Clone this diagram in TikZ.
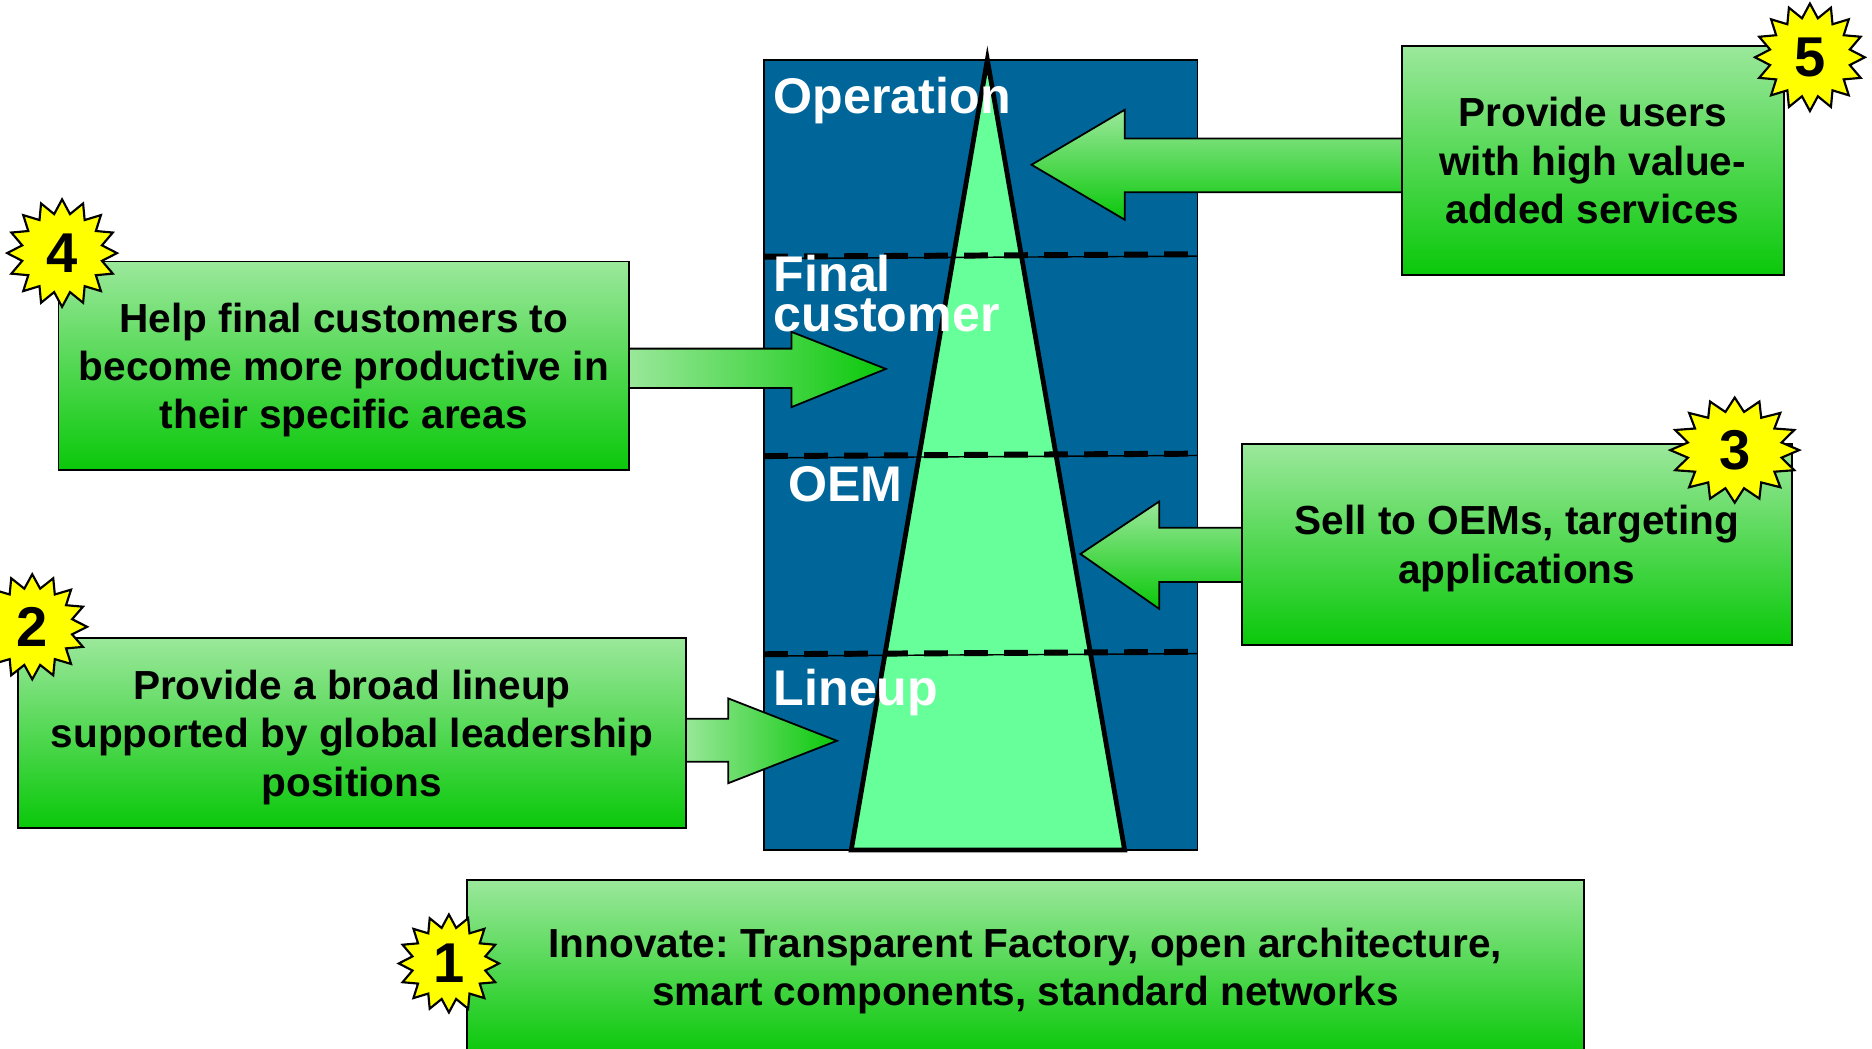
\documentclass[tikz,border=0pt]{standalone}
\usepackage{fontspec}
\setmainfont{Liberation Sans}
\frenchspacing
\definecolor{stackblue}{RGB}{0,102,153}
\definecolor{trigreen}{RGB}{102,255,153}
\definecolor{gtop}{RGB}{155,232,155}
\definecolor{gbot}{RGB}{10,200,10}
\definecolor{burstyellow}{RGB}{255,255,0}
\newcommand{\ls}{\rule[-8pt]{0pt}{40.5pt}}
\newcommand{\burst}[6]{%
  \draw[burst] plot[samples at={0,...,31}, variable=\k]
    ({#2+(mod(\k,2)==0?1:0.74)*#4*sin(\k*11.25)},
     {#3-(mod(\k,2)==0?1:0.74)*#5*cos(\k*11.25)}) -- cycle;
  \node[num] (#1) at (#2,#3) {#6};}
\begin{document}
\begin{tikzpicture}[x=1pt,y=-1pt,
  box/.style={draw=black, line width=1.5pt, top color=gtop, bottom color=gbot,
    inner sep=0pt, align=center, font=\fontsize{34pt}{40.5pt}\selectfont\bfseries},
  varrow/.style={draw=black, line width=1.5pt, top color=gtop, bottom color=gbot, line join=miter},
  harrow/.style={draw=black, line width=1.5pt, left color=gtop, right color=gbot, line join=miter},
  layer/.style={text=white, inner sep=0pt, anchor=base west,
    font=\fontsize{42pt}{42pt}\selectfont\bfseries},
  dashline/.style={line width=5pt, dash pattern=on 20pt off 13.5pt},
  thinline/.style={line width=1.2pt},
  burst/.style={fill=burstyellow, draw=black, line width=1.8pt, line join=miter},
  num/.style={inner sep=0pt, font=\fontsize{47pt}{47pt}\selectfont\bfseries},
  tri/.style={fill=trigreen, draw=black, line width=4pt, line join=miter}]
\useasboundingbox (0,0) rectangle (1568,878);
\clip (0,0) rectangle (1568,878);

% stack
\draw[fill=stackblue, line width=1.5pt] (640,50) rectangle (1003,712);
\draw[tri] (827,50) -- (942,712) -- (713,712) -- cycle;
\foreach \ya/\yb in {215/213, 382/380, 548/546}{
  \draw[thinline] (640,\ya+1.5) -- (1003,\yb+1.5);
  \draw[dashline] (640,\ya) -- (1000,\yb);
}
\node[layer] (lop) at (648,95) {Operation};
\node[layer] (lfi) at (648,244) {Final};
\node[layer] (lcu) at (648,278) {customer};
\node[layer] (loe) at (660,420) {OEM};
\node[layer] (lli) at (648,591) {Lineup};

% arrows
\draw[varrow] (1176,116) -- (942,116) -- (942,92) -- (864,138) -- (942,184) -- (942,161) -- (1176,161);
\draw[harrow] (525,292) -- (663,292) -- (663,278) -- (742,309) -- (663,341) -- (663,325) -- (525,325);
\draw[varrow] (1042,442) -- (971,442) -- (971,420) -- (905,464) -- (971,510) -- (971,487.5) -- (1042,487.5);
\draw[harrow] (572,602) -- (610,602) -- (610,585) -- (701,620.5) -- (610,656) -- (610,638) -- (572,638);

% boxes
\node[box, minimum width=320pt, minimum height=191.5pt] (b5) at (1334,134.5)
  {\ls Provide users\\\ls with high value-\\\ls added services};
\node[box, minimum width=478pt, minimum height=175pt] (b4) at (288,306.5)
  {\ls Help final customers to\\\ls become more productive in\\\ls their specific areas};
\node[box, minimum width=461pt, minimum height=168pt] (b3) at (1270.5,456)
  {\ls Sell to OEMs, targeting\\\ls applications};
\node[box, minimum width=559.5pt, minimum height=159pt] (b2) at (294.75,614)
  {\ls Provide a broad lineup\\\ls supported by global leadership\\\ls positions};
\node[box, minimum width=935.6pt, minimum height=146pt] (b1) at (858.8,810)
  {\ls Innovate: Transparent Factory, open architecture,\\\ls smart components, standard networks};

% bursts
\burst{s5}{1516}{48}{46}{45}{5}
\burst{s4}{52}{212}{46}{45}{4}
\burst{s3}{1453}{377}{54}{44}{3}
\burst{s2}{27}{525}{46}{44}{2}
\burst{s1}{376}{807}{42}{41}{1}
\end{tikzpicture}
\end{document}
